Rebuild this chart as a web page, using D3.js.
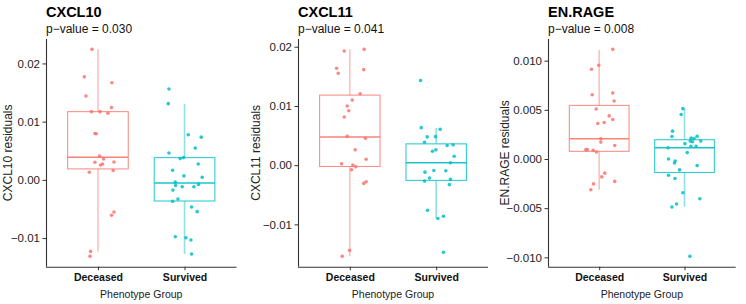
<!DOCTYPE html>
<html>
<head>
<meta charset="utf-8">
<script src="https://cdn.jsdelivr.net/npm/d3@7"></script>
<style>
  body { margin: 0; background: #fff; }
  svg { font-family: "Liberation Sans", Arial, Helvetica, sans-serif; }
</style>
</head>
<body>
<svg id="chart" width="746" height="304"></svg>
<script>
// groups and colours
const groups = ["Deceased", "Survived"]
const groupColors = ["#F8766D", "#00BFC4"]

const markers = ["CXCL10", "CXCL11", "EN.RAGE"]
const pValues = ["0.030", "0.041", "0.008"]
const yTicks = [
    [-0.01, 0, 0.01, 0.02],
    [-0.01, 0, 0.01, 0.02],
    [-0.01, -0.005, 0, 0.005, 0.01]
]
const tickFormats = [".2f", ".2f", ".3f"]

// box stats per marker, per group: [whiskerLow, q1, median, q3, whiskerHigh]
const boxStats = [
    [[-0.01229, 0.00188, 0.00387, 0.01172, 0.02242], [-0.01273, -0.00363, -0.00056, 0.00382, 0.01304]],
    [[-0.01540, -0.00022, 0.00477, 0.01183, 0.01956], [-0.00901, -0.00257, 0.00040, 0.00360, 0.00629]],
    [[-0.00313, 0.00078, 0.00206, 0.00545, 0.01108], [-0.00485, -0.00137, 0.00115, 0.00196, 0.00519]]
]

// residual values and horizontal jitter in category units
const cxcl10Deceased = [0.02242, 0.01770, 0.01667, 0.01440, 0.01241, 0.01172, 0.01172, 0.01143, 0.00797, 0.00792, 0.00410,
    0.00358, 0.00302, 0.00273, 0.00256, 0.00307, 0.00131, 0.00160, -0.00551, -0.00608, -0.01229, -0.01314]
const cxcl10DeceasedJit = [-0.069, -0.158, 0.161, -0.138, 0.157, -0.074, 0.023, 0.115, -0.035, -0.02, 0.018,
    0.065, -0.035, 0.053, 0.03, 0.185, -0.1, 0.176, 0.185, 0.157, -0.085, -0.092]
const cxcl10Survived = [0.01560, 0.01309, 0.00775, 0.00734, 0.00546, 0.00461, 0.00365, 0.00382, 0.00273, 0.00166, 0.00068,
    0.00046, -0.00039, -0.00096, -0.00119, -0.00119, -0.00078, -0.00176, -0.00329, -0.00369, -0.00466, -0.00546,
    -0.00978, -0.00995, -0.01034, -0.01273]
const cxcl10SurvivedJit = [-0.180, -0.188, 0.043, 0.193, 0.123, -0.180, -0.050, -0.012, 0.158, -0.138, -0.007,
    0.204, -0.107, -0.104, -0.027, 0.108, 0.161, -0.134, -0.076, -0.138, 0.081, 0.146,
    -0.107, 0.016, 0.074, 0.081]

const cxcl11Deceased = [0.01928, 0.01956, 0.01637, 0.01553, 0.01613, 0.01205, 0.01099, 0.00998, 0.00919, 0.00813, 0.00487,
    0.00454, 0.00259, 0.00101, 0.00024, 0.0, -0.00027, -0.00077, -0.00279, -0.00308, -0.01439, -0.01540]
const cxcl11DeceasedJit = [-0.065, 0.166, -0.153, -0.134, 0.161, 0.120, 0.028, -0.030, -0.012, -0.065, -0.030,
    0.181, 0.062, 0.189, -0.096, 0.035, 0.069, 0.020, 0.189, 0.161, -0.003, -0.088]
const cxcl11Survived = [0.01429, 0.00634, 0.00605, 0.00477, 0.00482, 0.00387, 0.00331, 0.00343, 0.00235, 0.00259, 0.00151,
    0.00040, -0.00118, -0.00089, -0.00094, -0.00218, -0.00269, -0.00240, -0.00329, -0.00761, -0.00901, -0.00862, -0.01472]
const cxcl11SurvivedJit = [-0.181, -0.173, 0.046, -0.104, -0.008, -0.135, 0.127, 0.196, -0.043, -0.003, 0.208,
    0.165, -0.130, -0.027, 0.112, -0.077, -0.135, 0.165, 0.153, -0.100, 0.020, 0.084, 0.084]

const enrageDeceased = [0.01115, 0.00954, 0.00913, 0.00671, 0.00654, 0.00590, 0.00509, 0.00438, 0.00401, 0.00361, 0.00371,
    0.00206, 0.00172, 0.00138, 0.00095, 0.00095, 0.00088, 0.00071, -0.00144, -0.00182, -0.00228, -0.00253, -0.00313]
const enrageDeceasedJit = [0.159, -0.005, -0.090, 0.159, -0.082, 0.175, -0.035, 0.117, 0.159, -0.016, 0.058,
    0.019, 0.019, 0.182, -0.156, -0.140, -0.070, -0.032, 0.065, 0.030, 0.182, -0.067, -0.098]
const enrageSurvived = [0.00512, 0.00452, 0.00283, 0.00229, 0.00212, 0.00209, 0.00232, 0.00182, 0.00176, 0.00182, 0.00156,
    0.00128, 0.00128, 0.00115, 0.00065, 0.0, -0.00020, -0.00040, -0.00067, -0.00111, -0.00165, -0.00198,
    -0.00343, -0.00404, -0.00458, -0.00488, -0.00990]
const enrageSurvivedJit = [-0.019, -0.039, -0.140, -0.147, 0.078, 0.113, 0.148, 0.067, 0.093, 0.191, 0.005,
    0.075, 0.137, -0.194, 0.032, -0.187, -0.109, -0.117, 0.148, -0.058, -0.187, -0.112,
    -0.019, 0.180, -0.093, -0.147, 0.063]

const values = [
    [cxcl10Deceased, cxcl10Survived],
    [cxcl11Deceased, cxcl11Survived],
    [enrageDeceased, enrageSurvived]
]
const jitters = [
    [cxcl10DeceasedJit, cxcl10SurvivedJit],
    [cxcl11DeceasedJit, cxcl11SurvivedJit],
    [enrageDeceasedJit, enrageSurvivedJit]
]

// panel layout
const plotLeft = [46, 298, 548]
const plotRight = [236.5, 488, 735.7]
const panelLeft = [0, 248.7, 497.3]
const plotTop = 39, plotBottom = 266.7

const svg = d3.select("#chart")

markers.forEach((name, i) => {
    const g = svg.append("g")

    // ggplot style discrete scale: 0.6 units of padding on each side
    const step = (plotRight[i] - plotLeft[i]) / (groups.length - 1 + 1.2)
    const x = d3.scalePoint()
        .domain(groups)
        .range([plotLeft[i] + 0.6 * step, plotRight[i] - 0.6 * step])
    const boxW = step * 0.7

    const all = values[i][0].concat(values[i][1])
    const [lo, hi] = d3.extent(all)
    const pad = (hi - lo) * 0.05
    const y = d3.scaleLinear()
        .domain([lo - pad, hi + pad])
        .range([plotBottom, plotTop])

    const fmt = d3.format(tickFormats[i])

    // y axis
    const yAxis = g.append("g")
        .attr("transform", `translate(${plotLeft[i]},0)`)
        .call(d3.axisLeft(y).tickValues(yTicks[i]).tickSize(3.5).tickPadding(2.5)
            .tickFormat(d => fmt(d).replace("-", "\u2212")))
    yAxis.select(".domain").attr("d", `M0.5,${plotTop}V${plotBottom}`).attr("stroke", "#333").attr("stroke-width", 1.1)
    yAxis.selectAll(".tick line").attr("stroke", "#333")
    yAxis.selectAll(".tick text").attr("fill", "#222").style("font-size", "11.5px")

    // x axis
    const xAxis = g.append("g")
        .attr("transform", `translate(0,${plotBottom})`)
        .call(d3.axisBottom(x).tickSize(3.5).tickPadding(3.5))
    xAxis.select(".domain").attr("d", `M${plotLeft[i]},0.5H${plotRight[i]}`).attr("stroke", "#333").attr("stroke-width", 1.1)
    xAxis.selectAll(".tick line").attr("stroke", "#333")
    xAxis.selectAll(".tick text").attr("fill", "#111").style("font-size", "10.5px").style("font-weight", "bold")

    // boxes
    groups.forEach((grp, j) => {
        const [wLo, q1, med, q3, wHi] = boxStats[i][j]
        const cx = x(grp)
        const col = groupColors[j]
        g.append("line")
            .attr("x1", cx).attr("x2", cx)
            .attr("y1", y(wHi)).attr("y2", y(wLo))
            .attr("stroke", col).attr("stroke-opacity", 0.45).attr("stroke-width", 1.6)
        g.append("rect")
            .attr("x", cx - boxW / 2).attr("y", y(q3))
            .attr("width", boxW).attr("height", y(q1) - y(q3))
            .attr("fill", "white")
            .attr("stroke", col).attr("stroke-opacity", 0.8).attr("stroke-width", 1.1)
        g.append("line")
            .attr("x1", cx - boxW / 2).attr("x2", cx + boxW / 2)
            .attr("y1", y(med)).attr("y2", y(med))
            .attr("stroke", col).attr("stroke-opacity", 0.9).attr("stroke-width", 1.5)

        // jittered points
        g.append("g").selectAll("circle")
            .data(values[i][j].map((v, k) => ({ v: v, jit: jitters[i][j][k] })))
            .join("circle")
            .attr("cx", d => cx + d.jit * step)
            .attr("cy", d => y(d.v))
            .attr("r", 1.8)
            .attr("fill", col)
            .attr("fill-opacity", 0.85)
    })

    // title and subtitle
    g.append("text")
        .attr("x", plotLeft[i]).attr("y", 17)
        .style("font-size", "14.5px").style("font-weight", "bold")
        .attr("fill", "#000")
        .text(name)
    g.append("text")
        .attr("x", plotLeft[i]).attr("y", 32.5)
        .style("font-size", "12px")
        .attr("fill", "#111")
        .text(`p\u2212value = ${pValues[i]}`)

    // axis titles
    g.append("text")
        .attr("transform", `translate(${panelLeft[i] + 11.5},${(plotTop + plotBottom) / 2}) rotate(-90)`)
        .attr("text-anchor", "middle")
        .style("font-size", "12px")
        .attr("fill", "#222")
        .text(`${name} residuals`)
    g.append("text")
        .attr("x", (plotLeft[i] + plotRight[i]) / 2).attr("y", 297.5)
        .attr("text-anchor", "middle")
        .style("font-size", "10.5px")
        .attr("fill", "#222")
        .text("Phenotype Group")
})
</script>
</body>
</html>
